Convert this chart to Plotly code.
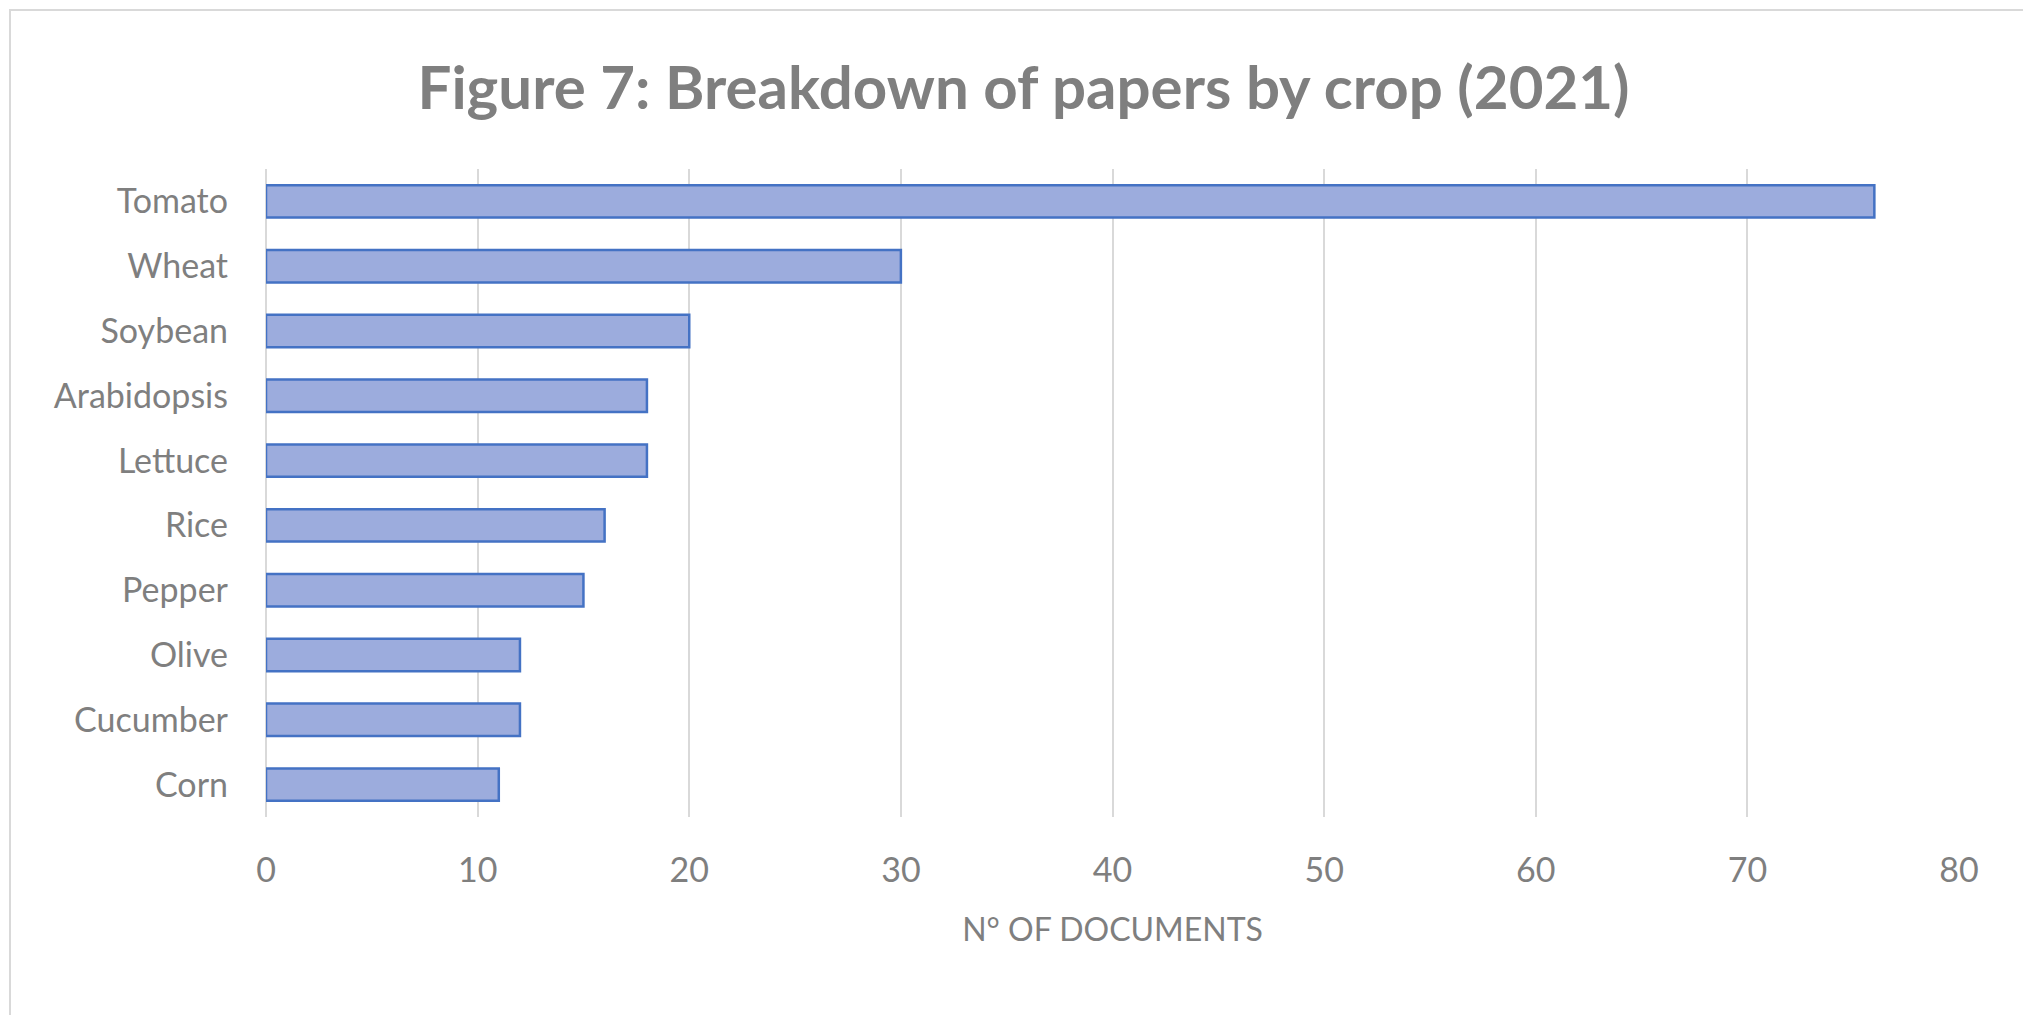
import plotly.graph_objects as go

crops = ['Tomato', 'Wheat', 'Soybean', 'Arabidopsis', 'Lettuce', 'Rice',
         'Pepper', 'Olive', 'Cucumber', 'Corn']
documents = [76, 30, 20, 18, 18, 16, 15, 12, 12, 11]
x_ticks = [0, 10, 20, 30, 40, 50, 60, 70, 80]

grey = '#7f7f7f'
font = 'Lato, Open Sans, sans-serif'

W, H = 2031, 1015
L, R, T, B = 258, 80, 161, 206
pw, ph = W - L - R, H - T - B

fig = go.Figure(go.Bar(
    x=documents,
    y=crops,
    orientation='h',
    marker=dict(color='#9cacdd', line=dict(color='#4472c4', width=2.5)),
))

fig.update_layout(
    width=W, height=H,
    paper_bgcolor='white', plot_bgcolor='white',
    margin=dict(l=L, r=R, t=T, b=B),
    bargap=0.5,
    showlegend=False,
    title=dict(
        text='<b>Figure 7: Breakdown of papers by crop (2021)</b>',
        x=0.5, xanchor='center', y=0.921, yanchor='middle',
        font=dict(family=font, size=60, color=grey),
    ),
    font=dict(family=font, color=grey),
)

fig.update_xaxes(
    range=[0, 80], tickvals=x_ticks,
    showgrid=True, gridcolor='#d9d9d9', gridwidth=2,
    zeroline=True, zerolinecolor='#d9d9d9', zerolinewidth=2,
    showline=False,
    tickfont=dict(size=34, color=grey),
    ticklabelstandoff=30,
    title=dict(text='N° OF DOCUMENTS', font=dict(size=32, color=grey), standoff=30),
    automargin=False,
)
fig.update_yaxes(
    categoryorder='array', categoryarray=crops[::-1],
    showgrid=False, showline=False,
    tickfont=dict(size=34, color=grey),
    ticklabelstandoff=37,
    automargin=False,
)

# light border around the whole chart
fig.add_shape(type='rect', xref='paper', yref='paper',
              x0=-(L - 2) / pw, x1=1 + (R - 2) / pw, y0=-(B - 2) / ph, y1=1 + (T - 2) / ph,
              line=dict(color='#d9d9d9', width=2))

fig.write_html('out.html')
